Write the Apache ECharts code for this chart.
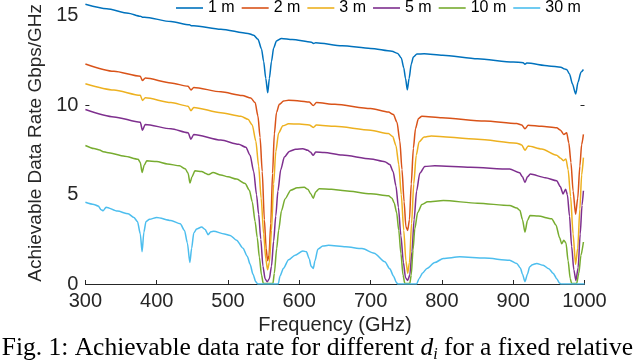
<!DOCTYPE html>
<html>
<head>
<meta charset="utf-8">
<script src="https://cdn.jsdelivr.net/npm/echarts@6/dist/echarts.min.js"></script>
<style>
  html, body { margin: 0; padding: 0; background: #fff; }
  #chart { width: 640px; height: 361px; }
</style>
</head>
<body>
<div id="chart"></div>
<script>
// distances (legend) and colours
var distNames = ['1 m', '2 m', '3 m', '5 m', '10 m', '30 m']
var lineColors = ['#0072BD', '#D95319', '#EDB120', '#7E2F8E', '#77AC30', '#4DBEEE']
var yTickLabels = [0, 5, 10, 15]

// [frequency GHz, achievable rate Gbps/GHz]
var rate1m = [[300,15.65],[330,15.4],[360,15.15],[377,14.98],[380,14.93],[383,14.93],[420,14.68],[446,14.5],[449,14.45],[452,14.45],[490,14.25],[528,14.02],[536,13.92],[542,13.7],[547,13.15],[550,12.45],[553,11.5],[555.7,10.7],[558,11.5],[561,12.45],[564,13.2],[568,13.6],[575,13.74],[590,13.68],[617,13.53],[620,13.46],[623,13.5],[660,13.33],[700,13.18],[730,13.02],[738,12.9],[743,12.65],[746.5,12.1],[749,11.5],[751.5,10.87],[754,11.5],[757,12.3],[760,12.7],[765,12.87],[775,12.88],[801,12.8],[850,12.6],[900,12.42],[914,12.38],[916.5,12.3],[919,12.36],[950,12.2],[967,12.13],[971,12.05],[975,12.0],[979,11.75],[983,11.2],[987.6,10.63],[991,11.3],[995,11.85],[998.5,12.0]]
var rate2m = [[300,12.31],[340,11.9],[377,11.62],[380,11.38],[384,11.52],[420,11.25],[444,11.06],[448,10.86],[452,11.0],[490,10.75],[520,10.55],[532,10.4],[538,10.15],[542,9.4],[545,8.2],[548,6.3],[551,3.6],[553.5,2.0],[555.5,1.3],[557.5,1.6],[560,3.4],[562.5,6.2],[565,8.4],[568,9.6],[572,10.05],[578,10.24],[585,10.28],[600,10.24],[614,10.18],[619.6,9.98],[624,10.15],[650,10.05],[700,9.82],[725,9.62],[732,9.48],[737,9.05],[741,8.0],[744,6.4],[747,4.6],[749.5,3.2],[752,3.0],[754.5,3.6],[757,5.6],[760,7.6],[763,8.7],[767,9.25],[772,9.39],[800,9.3],[860,9.12],[905,8.98],[912,8.9],[916.5,8.68],[921,8.88],[940,8.82],[961,8.74],[966,8.62],[971,8.37],[975,8.46],[978,7.9],[981,6.8],[984,5.2],[987.5,3.9],[990.5,4.8],[993.5,6.6],[996,7.8],[998.5,8.37]]
var rate3m = [[300,11.2],[340,10.85],[377,10.56],[380,10.27],[384,10.42],[420,10.15],[444,9.95],[448,9.7],[452,9.88],[490,9.58],[518,9.38],[528,9.22],[534,8.9],[539,8.0],[543,6.6],[546.5,4.8],[550,2.8],[553,1.4],[555.5,0.8],[558,1.2],[561,3.0],[564,5.6],[567,7.4],[571,8.45],[577,8.85],[585,8.96],[600,8.95],[614,8.9],[619.6,8.76],[624,8.9],[650,8.82],[700,8.6],[725,8.42],[731,8.25],[735.5,7.75],[739.5,6.7],[743,5.0],[746.5,3.0],[749.5,1.3],[752,0.6],[754.5,1.2],[757.5,3.4],[760.5,5.6],[764,7.2],[768,7.95],[775,8.22],[785,8.28],[850,8.1],[905,7.88],[912,7.78],[916.5,7.48],[921,7.72],[940,7.55],[961,7.2],[966,7.05],[970.5,6.9],[974,7.0],[977,6.4],[980.5,4.9],[984,2.8],[987.5,1.1],[990.5,2.0],[993.5,4.2],[996,6.1],[998.5,7.07]]
var rate5m = [[300,9.76],[340,9.35],[377,9.05],[380,8.6],[384,8.93],[420,8.68],[444,8.46],[448,8.1],[452,8.37],[490,8.05],[515,7.82],[525,7.65],[531,7.2],[536,6.3],[540,5.0],[543,3.9],[546,2.5],[549,1.0],[552,0.3],[555,0.12],[558,0.3],[561,1.0],[564,2.4],[567,3.8],[570,5.2],[574,6.4],[579,7.1],[586,7.42],[595,7.54],[605,7.57],[612,7.48],[615.5,7.38],[619.6,7.2],[623,7.38],[635,7.36],[660,7.22],[700,7.0],[720,6.84],[727,6.68],[731.5,6.3],[735.5,5.5],[739,4.3],[742.5,2.7],[746,1.2],[749,0.35],[752,0.2],[755,0.5],[758,1.8],[761,3.6],[764.5,5.2],[769,6.2],[776,6.58],[790,6.61],[840,6.53],[895,6.43],[909,6.22],[913,6.0],[916.5,5.68],[920,6.0],[924,6.15],[945,5.95],[961,5.78],[966,5.45],[970,5.04],[973.5,5.3],[976,5.0],[979,3.8],[982,2.1],[985,0.8],[988,0.2],[991,0.9],[994,2.8],[996.5,4.4],[998.5,5.22]]
var rate10m = [[300,7.75],[312,7.58],[320,7.5],[325,7.4],[330,7.36],[355,7.15],[374,6.98],[377,6.8],[379.5,6.24],[382.5,6.65],[386,6.89],[400,6.85],[415,6.72],[432,6.61],[440,6.45],[444,6.2],[446.7,5.65],[449.5,6.0],[453.7,6.33],[463,6.3],[469,6.18],[472.4,6.12],[479,6.24],[490,6.1],[500,6.0],[512,5.87],[524,5.62],[530,5.25],[534,4.6],[538,3.5],[541,2.6],[544,1.5],[547,0.5],[549.5,0.03],[563,0.03],[565,0.6],[568.3,2.0],[571,3.0],[575,4.1],[580,4.76],[588,5.25],[597,5.38],[607,5.41],[612,5.3],[616,5.05],[619.6,4.8],[623,5.15],[628,5.33],[645,5.3],[664,5.22],[700,5.05],[725,4.94],[730,4.8],[733,4.55],[736.5,4.0],[739.5,3.0],[742.5,1.7],[745.5,0.5],[748,0.03],[755,0.03],[757,0.5],[759.5,1.9],[762,3.1],[766,4.0],[772,4.45],[780,4.6],[802,4.67],[850,4.52],[895,4.39],[905,4.25],[909.5,4.11],[913,3.6],[916.5,2.91],[920,3.55],[923.5,3.83],[935,3.8],[954,3.65],[960,3.3],[965,2.6],[968,2.25],[971,2.45],[974,2.3],[977,1.3],[980,0.3],[982,0.03],[989,0.03],[992,0.6],[995,1.6],[998.5,2.35]]
var rate30m = [[300,4.57],[312,4.45],[318,4.36],[322,4.15],[325,4.1],[329,4.3],[345,4.08],[360,3.93],[368,3.72],[373,3.5],[377,2.8],[379.5,1.8],[382,2.9],[385,3.5],[390,3.62],[400,3.72],[420,3.55],[433,3.37],[439,3.0],[443,2.3],[446.5,1.2],[449,2.0],[452,2.85],[456,3.08],[463,3.19],[468,3.05],[472,2.76],[476,2.92],[480,2.95],[495,2.8],[503,2.72],[512,2.45],[521,2.0],[527,1.55],[531,1.1],[535,0.55],[539,0.12],[541.7,0],[570.5,0],[573,0.45],[577.6,0.87],[585,1.35],[594,1.61],[605,1.85],[610,1.8],[614,1.4],[616.5,1.0],[619.6,0.87],[622,1.3],[626,1.95],[633,2.12],[641,2.17],[665,2.08],[688,1.98],[705,1.72],[720,1.24],[727,0.85],[732,0.45],[736,0.1],[738,0],[764.6,0],[768,0.3],[773,0.62],[779,0.87],[790,1.2],[802,1.43],[825,1.52],[860,1.45],[895,1.33],[905,1.15],[910,0.9],[913,0.55],[916.5,0.13],[920,0.55],[923,0.95],[927,1.08],[933,1.15],[942,1.05],[950,0.85],[956,0.6],[961,0.3],[965,0.05],[967,0],[1000,0]]

var allRates = [rate1m, rate2m, rate3m, rate5m, rate10m, rate30m]

var sans = '"Liberation Sans", Arial, Helvetica, sans-serif'
var serif = '"Liberation Serif", "Times New Roman", serif'
var axisCol = '#262626'

var chart = echarts.init(document.getElementById('chart'), null, {renderer: 'canvas'})

var seriesList = allRates.map(function (d, i) {
  return {
    name: distNames[i],
    type: 'line',
    data: d,
    symbol: 'none',
    smooth: 0.25,
    smoothMonotone: 'x',
    lineStyle: { width: 1.5, color: lineColors[i] },
    itemStyle: { color: lineColors[i] },
    animation: false
  }
})

var option = {
  backgroundColor: '#fff',
  animation: false,
  grid: { left: 85.4, right: 55.5, top: 1.6, bottom: 77, outerBoundsMode: 'none' },
  legend: {
    data: distNames,
    left: 176,
    top: 0,
    padding: 0,
    icon: 'rect',
    itemWidth: 27,
    itemHeight: 1.6,
    itemGap: 7,
    textStyle: { fontFamily: sans, fontSize: 16, color: '#000', lineHeight: 16 }
  },
  xAxis: {
    type: 'value',
    min: 300,
    max: 1000,
    interval: 100,
    name: 'Frequency (GHz)',
    nameLocation: 'middle',
    nameGap: 30,
    nameTextStyle: { fontFamily: sans, fontSize: 20, color: axisCol },
    axisLine: { lineStyle: { color: axisCol, width: 1 } },
    axisTick: { inside: true, length: 4, lineStyle: { color: axisCol } },
    axisLabel: {
      margin: 7, fontFamily: sans, fontSize: 20, color: axisCol,
      formatter: function (v) { return String(v) }
    },
    splitLine: { show: false }
  },
  yAxis: [{
    type: 'value',
    min: 0,
    max: 15.8,
    interval: 5,
    name: 'Achievable Data Rate Gbps/GHz',
    nameLocation: 'middle',
    nameGap: 37,
    nameTextStyle: { fontFamily: sans, fontSize: 19, color: axisCol },
    axisLine: { show: false },
    axisTick: { show: true, inside: true, length: 4, customValues: [10], lineStyle: { color: axisCol } },
    axisLabel: {
      margin: 7, fontFamily: sans, fontSize: 20, color: axisCol,
      formatter: function (v) { return yTickLabels.indexOf(v) >= 0 ? String(v) : '' }
    },
    splitLine: { show: false }
  }, {
    type: 'value',
    position: 'right',
    min: 0,
    max: 15.8,
    interval: 5,
    axisLine: { show: false },
    axisTick: { show: true, inside: true, length: 4, customValues: [10], lineStyle: { color: axisCol } },
    axisLabel: { show: false },
    splitLine: { show: false }
  }],
  graphic: [{
    type: 'text',
    x: 1.7,
    y: 348,
    style: {
      text: '{n|Fig. 1: Achievable data rate for different }{d|d}{s|i}{n| for a fixed relative}',
      align: 'left',
      verticalAlign: 'middle',
      rich: {
        n: { fontFamily: serif, fontSize: 25.5, lineHeight: 30, fill: '#000' },
        d: { fontFamily: serif, fontSize: 25.5, fontStyle: 'italic', lineHeight: 30, fill: '#000' },
        s: { fontFamily: serif, fontSize: 16, fontStyle: 'italic', lineHeight: 14, verticalAlign: 'bottom', fill: '#000' }
      }
    }
  }],
  series: seriesList
}

chart.setOption(option)
</script>
</body>
</html>
